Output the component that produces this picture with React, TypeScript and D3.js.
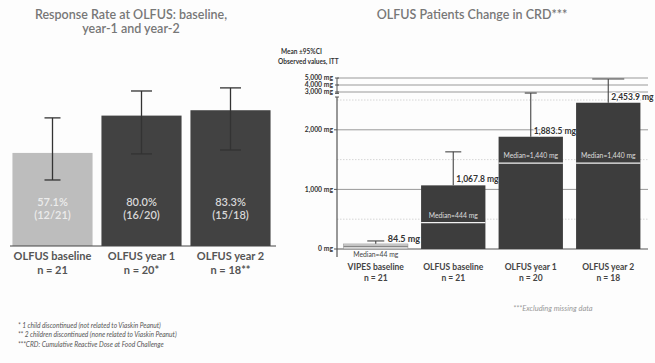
import * as d3 from "d3";

// left chart: response rate
const respCats = ["OLFUS baseline", "OLFUS year 1", "OLFUS year 2"];
const respN = ["n = 21", "n = 20*", "n = 18**"];
const respRate = [57.1, 80.0, 83.3];
const respLow = [40.5, 56.5, 58.9];
const respHigh = [78.6, 95.1, 97.0];
const respFrac = ["(12/21)", "(16/20)", "(15/18)"];

// right chart: CRD
const crdCats = ["VIPES baseline", "OLFUS baseline", "OLFUS year 1", "OLFUS year 2"];
const crdN = ["n = 21", "n = 21", "n = 20", "n = 18"];
const crdMean = [84.5, 1067.8, 1883.5, 2453.9];
const crdMedian = [44, 444, 1440, 1440];
const crdHigh = [135, 1630, 2850, 4850];
const crdMeanLabels = ["84.5 mg", "1,067.8 mg", "1,883.5 mg", "2,453.9 mg"];
const crdMedianLabels = ["Median=44 mg", "Median=444 mg", "Median=1,440 mg", "Median=1,440 mg"];
const lowTicks = [0, 1000, 2000];
const lowDotted = [500, 1500, 2500];
const highTicks = [3000, 4000, 5000];

const footnotes = [
  "* 1 child discontinued (not related to Viaskin Peanut)",
  "** 2 children discontinued (none related to Viaskin Peanut)",
  "***CRD: Cumulative Reactive Dose at Food Challenge",
];

const titleFont = "Lato, 'Open Sans', sans-serif";
const labelFont = "Lato, 'Liberation Sans', sans-serif";

function App() {
  // left scales
  const xL = d3.scaleBand().domain(respCats).range([8, 275]).paddingInner(0.1).paddingOuter(0.05);
  const yL = d3.scaleLinear().domain([0, 100]).range([246, 83]);

  // right scales: broken axis
  const xR = d3.scaleBand().domain(crdCats).range([337, 647]).paddingInner(0.17).paddingOuter(0.085);
  const yLow = d3.scaleLinear().domain([0, 2500]).range([249, 100]);
  const yHigh = d3.scaleLinear().domain([3000, 5000]).range([92, 78]);
  const yR = (v: number) => (v > 2700 ? yHigh(v) : yLow(v));
  const axisX = 337;
  const gridEnd = 648;

  return (
    <svg width={655} height={363} style={{ position: "absolute", left: 0, top: 0, background: "#fff" }}>
      <rect width={655} height={363} fill="#fdfdfd" />

      {/* ---- left chart ---- */}
      <text x={131} y={19} textAnchor="middle" fontFamily={titleFont} fontSize={12.5} fill="#777" fontWeight={600}>
        Response Rate at OLFUS: baseline,
      </text>
      <text x={131} y={33} textAnchor="middle" fontFamily={titleFont} fontSize={12.5} fill="#777" fontWeight={600}>
        year-1 and year-2
      </text>

      {respCats.map((c, i) => {
        const x0 = xL(c)!;
        const w = xL.bandwidth();
        const cx = x0 + w / 2;
        const capW = i === 0 ? 16 : 21;
        return (
          <g key={c}>
            <rect x={x0} y={yL(respRate[i])} width={w} height={yL(0) - yL(respRate[i])} fill={i === 0 ? "#bdbdbd" : "#424242"} />
            <line x1={cx} x2={cx} y1={yL(respHigh[i])} y2={yL(respLow[i])} stroke="#333" strokeWidth={1.3} />
            <line x1={cx - capW / 2} x2={cx + capW / 2} y1={yL(respHigh[i])} y2={yL(respHigh[i])} stroke="#333" strokeWidth={1.3} />
            <line x1={cx - capW / 2} x2={cx + capW / 2} y1={yL(respLow[i])} y2={yL(respLow[i])} stroke="#333" strokeWidth={1.3} />
            <text x={cx} y={206} textAnchor="middle" fontFamily={labelFont} fontSize={11} fontWeight={600} fill={i === 0 ? "#ececec" : "#d8d8d8"}>
              {respRate[i].toFixed(1)}%
            </text>
            <text x={cx} y={219} textAnchor="middle" fontFamily={labelFont} fontSize={11} fontWeight={600} fill={i === 0 ? "#ececec" : "#d8d8d8"}>
              {respFrac[i]}
            </text>
            <text x={cx} y={260} textAnchor="middle" fontFamily={labelFont} fontSize={11} fontWeight={700} fill="#555">
              {c}
            </text>
            <text x={cx} y={274} textAnchor="middle" fontFamily={labelFont} fontSize={11} fontWeight={700} fill="#555">
              {respN[i]}
            </text>
          </g>
        );
      })}
      <line x1={10} x2={276} y1={yL(0)} y2={yL(0)} stroke="#444" strokeWidth={1} />

      {footnotes.map((f, i) => (
        <text key={i} x={18} y={328 + i * 9.3} fontFamily={labelFont} fontStyle="italic" fontSize={6.6} fill="#555">
          {f}
        </text>
      ))}

      {/* ---- right chart ---- */}
      <text x={472} y={19} textAnchor="middle" fontFamily={titleFont} fontSize={12.5} fill="#777" fontWeight={600}>
        OLFUS Patients Change in CRD***
      </text>
      <text x={281} y={54} fontFamily={labelFont} fontSize={6.5} fontWeight={700} fill="#333">
        Mean ±95%CI
      </text>
      <text x={278} y={64} fontFamily={labelFont} fontSize={6.5} fontWeight={700} fill="#333">
        Observed values, ITT
      </text>

      {/* gridlines */}
      {lowDotted.map((v) => (
        <line key={v} x1={axisX} x2={gridEnd} y1={yLow(v)} y2={yLow(v)} stroke="#ccc" strokeWidth={0.8} strokeDasharray="1.5,1.5" />
      ))}
      {lowTicks.map((v) => (
        <g key={v}>
          <line x1={axisX} x2={gridEnd} y1={yLow(v)} y2={yLow(v)} stroke={v === 0 ? "#555" : "#999"} strokeWidth={v === 0 ? 1.2 : 1} />
          <line x1={axisX - 3} x2={axisX} y1={yLow(v)} y2={yLow(v)} stroke="#555" />
          <text x={axisX - 4} y={yLow(v) + 2.3} textAnchor="end" fontFamily={labelFont} fontSize={6.8} fontWeight={700} fill="#333">
            {d3.format(",")(v)} mg
          </text>
        </g>
      ))}
      {highTicks.map((v) => (
        <g key={v}>
          <line x1={axisX} x2={gridEnd} y1={yHigh(v)} y2={yHigh(v)} stroke="#999" strokeWidth={1} />
          <line x1={axisX - 2} x2={axisX + 2} y1={yHigh(v)} y2={yHigh(v)} stroke="#555" />
          <text x={axisX - 4} y={yHigh(v) + 2.3} textAnchor="end" fontFamily={labelFont} fontSize={6.8} fontWeight={700} fill="#333">
            {d3.format(",")(v)} mg
          </text>
        </g>
      ))}
      {/* broken axis */}
      <line x1={axisX} x2={axisX} y1={yHigh(5000)} y2={yHigh(2800)} stroke="#555" />
      <line x1={axisX - 2} x2={axisX + 2} y1={yHigh(2800)} y2={yHigh(2800)} stroke="#555" />
      <line x1={axisX} x2={axisX} y1={yLow(2550)} y2={yLow(0) + 8} stroke="#555" strokeWidth={1.2} />
      <line x1={axisX - 2} x2={axisX + 2} y1={yLow(2550)} y2={yLow(2550)} stroke="#555" />

      {crdCats.map((c, i) => {
        const x0 = xR(c)!;
        const w = xR.bandwidth();
        const cx = x0 + w / 2;
        const light = i === 0;
        const capW = i === 0 ? 17 : i === 1 ? 16 : i === 2 ? 12 : 32;
        const top = yR(crdMean[i]);
        return (
          <g key={c}>
            <line x1={cx} x2={cx} y1={yR(crdHigh[i])} y2={top} stroke="#444" strokeWidth={1.1} />
            <line x1={cx - capW / 2} x2={cx + capW / 2} y1={yR(crdHigh[i])} y2={yR(crdHigh[i])} stroke="#444" strokeWidth={1.1} />
            <rect
              x={x0}
              y={top}
              width={w}
              height={yLow(0) - top}
              fill={light ? "#d6d6d6" : "#3d3d3d"}
              stroke={light ? "#999" : "none"}
              strokeWidth={0.6}
            />
            <line x1={x0} x2={x0 + w} y1={yLow(crdMedian[i])} y2={yLow(crdMedian[i])} stroke={light ? "#888" : "#f2f2f2"} strokeWidth={1.3} />
            {light ? (
              <text x={cx} y={257} textAnchor="middle" fontFamily={labelFont} fontSize={6.8} fill="#444">
                {crdMedianLabels[i]}
              </text>
            ) : (
              <text x={cx} y={yLow(crdMedian[i]) - 5} textAnchor="middle" fontFamily={labelFont} fontSize={6.8} fill="#ddd">
                {crdMedianLabels[i]}
              </text>
            )}
            <text
              x={light ? cx + 12 : cx + 3}
              y={light ? 242 : top - 3}
              fontFamily={labelFont}
              fontSize={light ? 9 : 8.5}
              fontWeight={700}
              fill="#333"
              style={{ paintOrder: "stroke" }}
              stroke="#fff"
              strokeWidth={i === 0 ? 0 : 2}
            >
              {crdMeanLabels[i]}
            </text>
            <text x={cx} y={270} textAnchor="middle" fontFamily={labelFont} fontSize={8.5} fontWeight={700} fill="#444">
              {c}
            </text>
            <text x={cx} y={281} textAnchor="middle" fontFamily={labelFont} fontSize={8.5} fontWeight={700} fill="#444">
              {crdN[i]}
            </text>
          </g>
        );
      })}

      <text x={553} y={311} textAnchor="middle" fontFamily={labelFont} fontStyle="italic" fontSize={7.5} fill="#999">
        ***Excluding missing data
      </text>
    </svg>
  );
}

export default App;
